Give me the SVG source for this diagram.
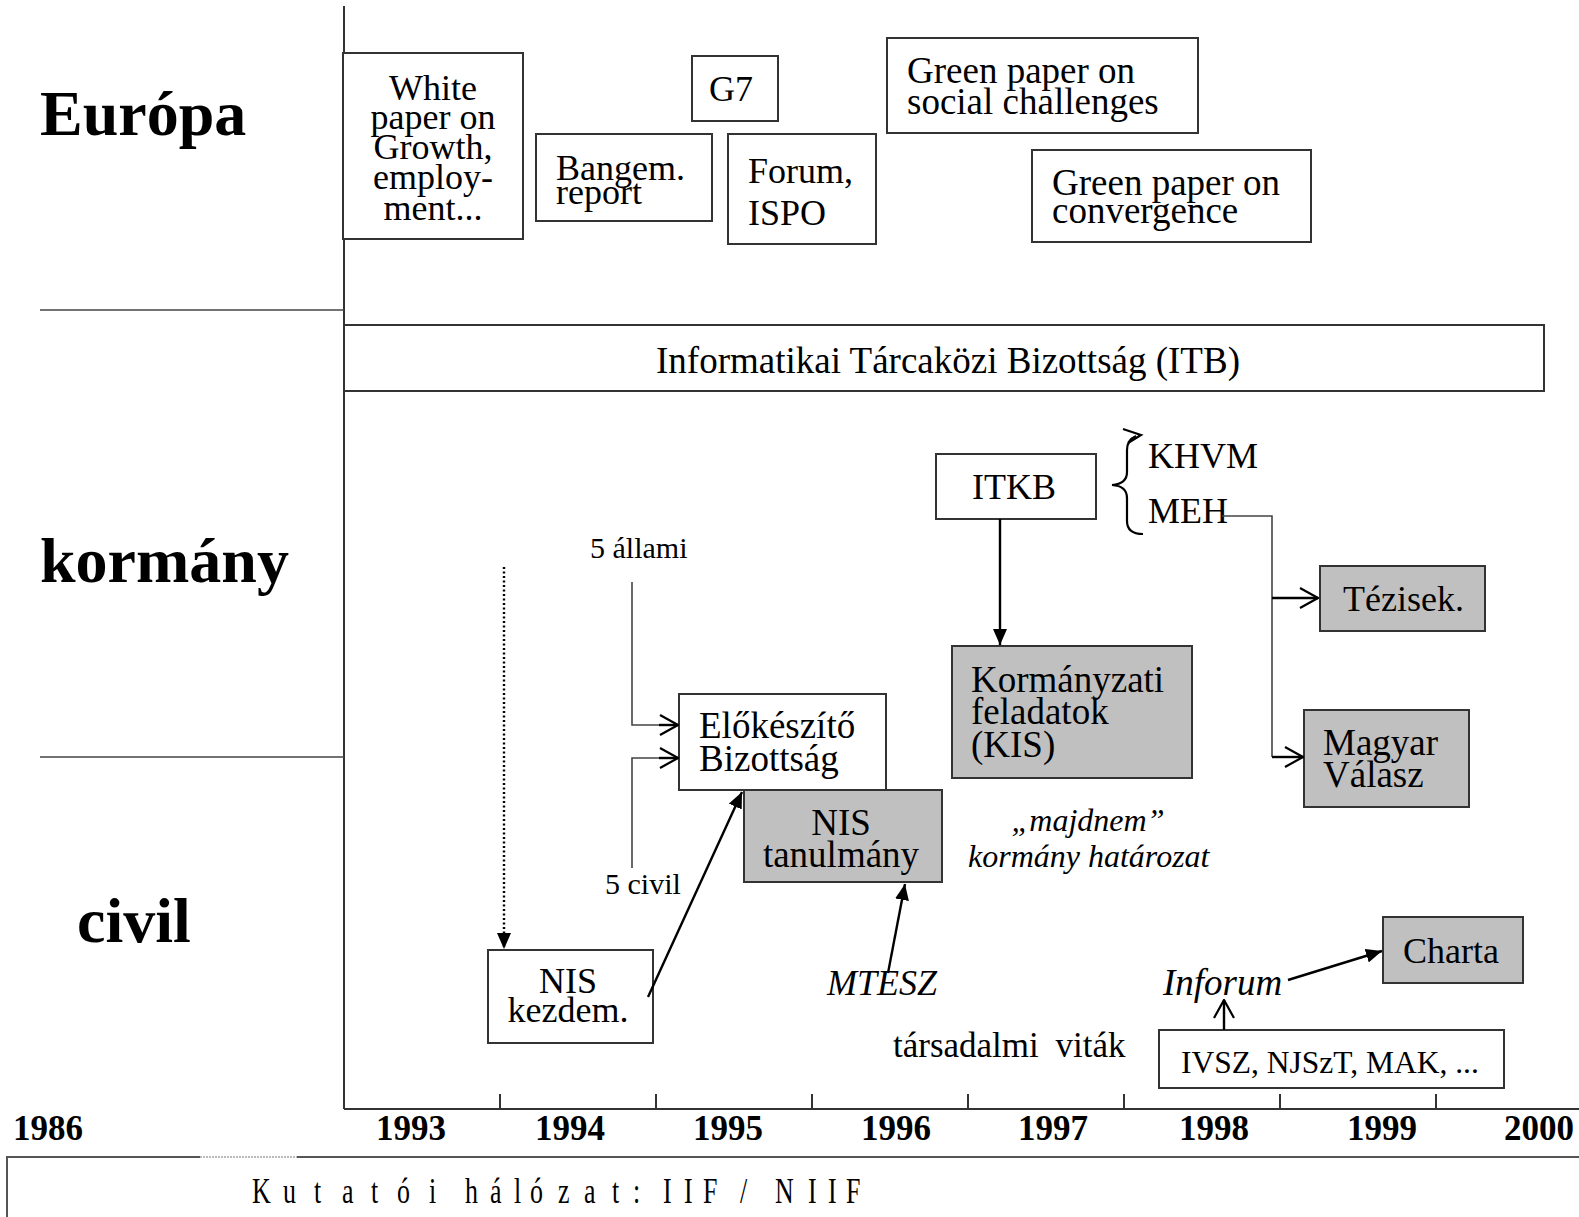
<svg xmlns="http://www.w3.org/2000/svg" width="1579" height="1217" viewBox="0 0 1579 1217">
<style>
text{font-family:"Liberation Serif","Times New Roman",serif;fill:#000}
.box{fill:#fff;stroke:#333;stroke-width:2}
.gbox{fill:#c0c0c0;stroke:#333;stroke-width:2}
.t{font-size:36px}
.t37{font-size:37px}
.lane{font-size:64px;font-weight:bold}
.yr{font-size:35px;font-weight:bold}
.sm{font-size:30px}
.it{font-style:italic}
.ax{stroke:#333;stroke-width:2;fill:none}
.thin{stroke:#444;stroke-width:1.6;fill:none}
.arr{stroke:#000;stroke-width:2.4;fill:none}
</style>
<defs>
<marker id="fa" viewBox="0 0 16 14" refX="16" refY="7" markerWidth="16" markerHeight="14" markerUnits="userSpaceOnUse" orient="auto"><path d="M0,0 L16,7 L0,14 z" fill="#000"/></marker>
<marker id="oa" viewBox="0 0 20 22" refX="19" refY="11" markerWidth="20" markerHeight="22" markerUnits="userSpaceOnUse" orient="auto"><path d="M1,1 L19,11 L1,21" fill="none" stroke="#000" stroke-width="2.2"/></marker>
</defs>

<g id="frame">
<line class="ax" x1="344" y1="6" x2="344" y2="1109"/>
<line class="thin" x1="40" y1="310" x2="344" y2="310"/>
<line class="thin" x1="40" y1="757" x2="344" y2="757"/>
<line class="ax" x1="344" y1="1109" x2="1579" y2="1109"/>
<g class="ax">
<line x1="500" y1="1094" x2="500" y2="1109"/>
<line x1="656" y1="1094" x2="656" y2="1109"/>
<line x1="812" y1="1094" x2="812" y2="1109"/>
<line x1="968" y1="1094" x2="968" y2="1109"/>
<line x1="1124" y1="1094" x2="1124" y2="1109"/>
<line x1="1280" y1="1094" x2="1280" y2="1109"/>
<line x1="1436" y1="1094" x2="1436" y2="1109"/>
</g>
<text class="lane" x="40" y="135">Európa</text>
<text class="lane" x="40" y="582">kormány</text>
<text class="lane" x="77" y="942">civil</text>
<text class="yr" x="13" y="1140">1986</text>
<text class="yr" x="376" y="1140">1993</text>
<text class="yr" x="535" y="1140">1994</text>
<text class="yr" x="693" y="1140">1995</text>
<text class="yr" x="861" y="1140">1996</text>
<text class="yr" x="1018" y="1140">1997</text>
<text class="yr" x="1179" y="1140">1998</text>
<text class="yr" x="1347" y="1140">1999</text>
<text class="yr" x="1504" y="1140">2000</text>
</g>

<g id="kutatoi">
<line x1="7" y1="1157" x2="200" y2="1157" stroke="#555" stroke-width="2"/>
<line x1="200" y1="1157" x2="297" y2="1157" stroke="#bbb" stroke-width="2" stroke-dasharray="2,1"/>
<line x1="297" y1="1157" x2="1579" y2="1157" stroke="#555" stroke-width="2"/>
<line x1="7" y1="1156" x2="7" y2="1217" stroke="#555" stroke-width="2"/>
<text transform="scale(0.72,1)" y="1203" font-size="36" x="350 393.1 436.1 475 515.3 551.4 595.8 611.1 645.8 680.6 713.9 736.1 775 811.1 850 879.2 895.8 920.8 950 976.4 1006.9 1027.8 1055.6 1076.4 1122.2 1150 1175">Kutatói hálózat: IIF / NIIF</text>
</g>

<g id="white-paper">
<rect class="box" x="343" y="53" width="180" height="186"/>
<g class="t" text-anchor="middle">
<text x="433" y="100">White</text>
<text x="433" y="129">paper on</text>
<text x="433" y="159">Growth,</text>
<text x="433" y="189">employ-</text>
<text x="433" y="220">ment...</text>
</g>
</g>

<g id="bangem">
<rect class="box" x="536" y="134" width="176" height="87"/>
<text class="t" x="556" y="180">Bangem.</text>
<text class="t" x="556" y="204">report</text>
</g>

<g id="g7">
<rect class="box" x="692" y="56" width="86" height="65"/>
<text class="t" x="709" y="101">G7</text>
</g>

<g id="forum">
<rect class="box" x="728" y="134" width="148" height="110"/>
<text class="t" x="748" y="183">Forum,</text>
<text class="t" x="748" y="225">ISPO</text>
</g>

<g id="green-social">
<rect class="box" x="887" y="38" width="311" height="95"/>
<text class="t37" x="907" y="83">Green paper on</text>
<text class="t37" x="907" y="114">social challenges</text>
</g>

<g id="green-convergence">
<rect class="box" x="1032" y="150" width="279" height="92"/>
<text class="t37" x="1052" y="195">Green paper on</text>
<text class="t37" x="1052" y="223">convergence</text>
</g>

<g id="itb">
<rect class="box" x="344" y="325" width="1200" height="66"/>
<text class="t37" x="948" y="373" text-anchor="middle">Informatikai Tárcaközi Bizottság (ITB)</text>
</g>

<g id="itkb">
<rect class="box" x="936" y="454" width="160" height="65"/>
<text class="t" x="972" y="499">ITKB</text>
</g>

<g id="khvm-meh">
<path d="M1143,534 Q1127,534 1127,521 L1127,498 Q1127,486 1112,485 Q1127,484 1127,472 L1127,450 Q1127,440 1136,436" fill="none" stroke="#000" stroke-width="2.2"/>
<path d="M1123,429 L1141,435 L1128,443" fill="none" stroke="#000" stroke-width="2.2"/>
<text class="t" x="1148" y="468">KHVM</text>
<text class="t" x="1148" y="523">MEH</text>
</g>

<g id="tezisek">
<rect class="gbox" x="1320" y="566" width="165" height="65"/>
<text class="t" x="1343" y="611">Tézisek.</text>
</g>

<g id="magyar-valasz">
<rect class="gbox" x="1304" y="710" width="165" height="97"/>
<text class="t37" x="1323" y="755">Magyar</text>
<text class="t37" x="1323" y="787">Válasz</text>
</g>

<g id="kormanyzati">
<rect class="gbox" x="952" y="646" width="240" height="132"/>
<text class="t37" x="971" y="692">Kormányzati</text>
<text class="t37" x="971" y="724">feladatok</text>
<text class="t37" x="971" y="757">(KIS)</text>
</g>

<g id="elokeszito">
<rect class="box" x="679" y="694" width="207" height="96"/>
<text class="t37" x="699" y="738">Előkészítő</text>
<text class="t37" x="699" y="771">Bizottság</text>
</g>

<g id="nis-tanulmany">
<rect class="gbox" x="744" y="790" width="198" height="92"/>
<text class="t37" x="841" y="835" text-anchor="middle">NIS</text>
<text class="t37" x="841" y="867" text-anchor="middle">tanulmány</text>
</g>

<g id="labels">
<text class="sm" x="590" y="558">5 állami</text>
<text class="sm" x="605" y="894">5 civil</text>
<text class="t it" x="827" y="995">MTESZ</text>
<text class="it" font-size="32" x="1088" y="831" text-anchor="middle">„majdnem”</text>
<text class="it" font-size="32" x="968" y="867">kormány határozat</text>
<text font-size="35" x="893" y="1057" word-spacing="8">társadalmi viták</text>
<text class="it" font-size="37" x="1163" y="995">Inforum</text>
</g>

<g id="nis-kezdem">
<rect class="box" x="488" y="950" width="165" height="93"/>
<text class="t" x="568" y="993" text-anchor="middle">NIS</text>
<text class="t" x="568" y="1022" text-anchor="middle">kezdem.</text>
</g>

<g id="charta">
<rect class="gbox" x="1383" y="917" width="140" height="66"/>
<text class="t" x="1403" y="963">Charta</text>
</g>

<g id="ivsz">
<rect class="box" x="1159" y="1030" width="345" height="58"/>
<text font-size="31.5" x="1181" y="1073">IVSZ, NJSzT, MAK, ...</text>
</g>

<g id="connectors">
<line x1="504" y1="567" x2="504" y2="949" stroke="#000" stroke-width="2.4" stroke-dasharray="2,2.5" marker-end="url(#fa)"/>
<path class="thin" d="M632,582 V725 H660"/>
<line class="arr" x1="659" y1="725" x2="678" y2="725" marker-end="url(#oa)"/>
<path class="thin" d="M632,868 V758 H660"/>
<line class="arr" x1="659" y1="758" x2="678" y2="758" marker-end="url(#oa)"/>
<line class="arr" x1="648" y1="997" x2="742" y2="792" marker-end="url(#fa)"/>
<line class="arr" x1="888" y1="973" x2="905" y2="884" marker-end="url(#fa)"/>
<line class="arr" x1="1000" y1="519" x2="1000" y2="645" marker-end="url(#fa)"/>
<path class="thin" d="M1222,516 H1272 V757"/>
<line class="arr" x1="1272" y1="598" x2="1318" y2="598" marker-end="url(#oa)"/>
<line class="arr" x1="1272" y1="757" x2="1303" y2="757" marker-end="url(#oa)"/>
<line class="arr" x1="1288" y1="980" x2="1382" y2="951" marker-end="url(#fa)"/>
<line class="arr" x1="1224" y1="1030" x2="1224" y2="1000" marker-end="url(#oa)"/>
</g>
</svg>
